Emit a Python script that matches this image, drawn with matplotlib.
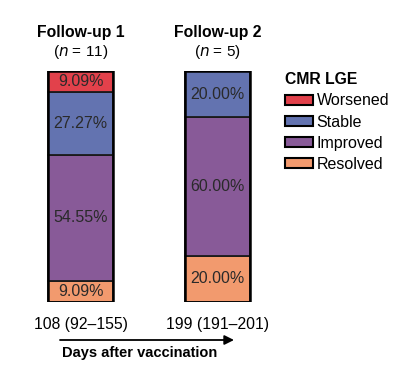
import matplotlib.pyplot as plt

plt.rcParams['font.family'] = ['Liberation Sans', 'DejaVu Sans']

# ===== DATA =====
followups = ['Follow-up 1', 'Follow-up 2']
n_patients = [11, 5]
days_labels = ['108 (92\u2013155)', '199 (191\u2013201)']

# stacked from bottom to top
statuses = ['Resolved', 'Improved', 'Stable', 'Worsened']
resolved = [9.09, 20.00]
improved = [54.55, 60.00]
stable = [27.27, 20.00]
worsened = [9.09, 0.0]

colors = {
    'Resolved': '#F29A6E',
    'Improved': '#885A98',
    'Stable': '#6373B0',
    'Worsened': '#E2414B',
}

W, H = 400, 380
fig = plt.figure(figsize=(W / 100, H / 100), dpi=100)

# axes laid out in pixels: bars centred at 80.5 and 217.5 px, 65 px wide
px_per_unit = 137.0
ax_left, ax_right = 30, 268
bar_top, bar_bottom = 71, 302
ax = fig.add_axes([ax_left / W, (H - bar_bottom) / H,
                   (ax_right - ax_left) / W, (bar_bottom - bar_top) / H])
half = (ax_right - ax_left) / 2 / px_per_unit
ax.set_xlim(0.5 - half, 0.5 + half)
ax.set_ylim(0, 100)

x = [0, 1]
width = 65 / px_per_unit
series = {'Resolved': resolved, 'Improved': improved,
          'Stable': stable, 'Worsened': worsened}

bottoms = [0.0, 0.0]
handles = {}
for name in statuses:
    vals = series[name]
    bars = ax.bar(x, vals, width=width, bottom=bottoms, color=colors[name],
                  edgecolor='#1a1a1a', linewidth=1.3, label=name)
    handles[name] = bars
    for xi, v, b in zip(x, vals, bottoms):
        if v > 0:
            ax.text(xi, b + v / 2, f'{v:.2f}%', ha='center', va='center',
                    fontsize=11.5, color='#2a2a2a')
    bottoms = [b + v for b, v in zip(bottoms, vals)]

# outer frame of each bar
for xi in x:
    ax.bar(xi, 100, width=width, fill=False, edgecolor='black', linewidth=1.8)

# titles above bars
ypx = 100 / (bar_bottom - bar_top)
for xi, title, n in zip(x, followups, n_patients):
    ax.text(xi, 100 + (bar_top - 32) * ypx, title, ha='center', va='center',
            fontsize=11.3, fontweight='bold', clip_on=False)
    ax.text(xi, 100 + (bar_top - 52) * ypx, f'($n$ = {n})', ha='center',
            va='center', fontsize=11, clip_on=False)

ax.set_xticks(x)
ax.set_xticklabels(days_labels, fontsize=11.3)
ax.tick_params(axis='x', length=0, pad=11)
ax.set_yticks([])
for s in ax.spines.values():
    s.set_visible(False)

# arrow and axis caption
ax.annotate('', xy=(234, H - 340), xytext=(60, H - 340),
            xycoords='figure pixels', textcoords='figure pixels',
            arrowprops=dict(arrowstyle='-|>', lw=1.3, color='black',
                            mutation_scale=14, shrinkA=0, shrinkB=0))
fig.text(140 / W, (H - 353) / H, 'Days after vaccination', ha='center',
         va='center', fontsize=10.5, fontweight='bold')

# legend
leg_order = ['Worsened', 'Stable', 'Improved', 'Resolved']
leg = fig.legend([handles[k] for k in leg_order], leg_order,
                 loc='upper left', bbox_to_anchor=(279 / W, (H - 66) / H),
                 frameon=False, fontsize=11.5, title='CMR LGE',
                 title_fontproperties={'weight': 'bold', 'size': 11.3},
                 handlelength=1.7, handleheight=0.6, handletextpad=0.25,
                 labelspacing=0.38, alignment='left', borderaxespad=0)
for p in leg.get_patches():
    p.set_edgecolor('black')
    p.set_linewidth(1.5)

fig.savefig('out.png', dpi=100)
